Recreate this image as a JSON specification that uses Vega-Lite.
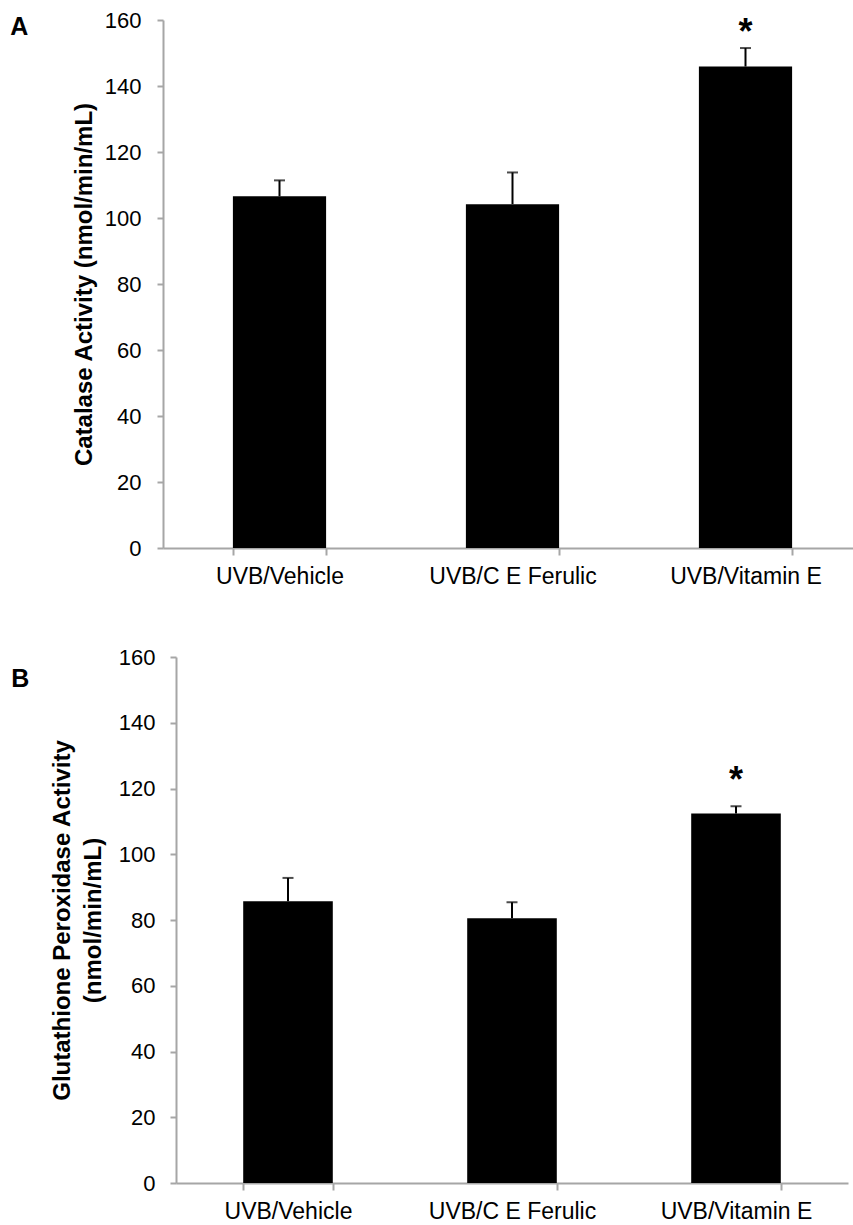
{
  "$schema": "https://vega.github.io/schema/vega-lite/v6.json",
  "padding": {"left": 10, "top": 9, "right": 0, "bottom": 0},
  "background": "white",
  "config": {
    "view": {"stroke": null},
    "font": "Liberation Sans",
    "axis": {"grid": false, "domainColor": "#a6a6a6", "tickColor": "#a6a6a6", "domainWidth": 2, "tickWidth": 2, "labelColor": "black", "titleColor": "black", "labelFont": "Liberation Sans", "titleFont": "Liberation Sans"}
  },
  "datasets": {
    "catalase": [
      {"group": "UVB/Vehicle", "mean": 106.6, "upper": 111.4, "star": null},
      {"group": "UVB/C E Ferulic", "mean": 104.2, "upper": 113.8, "star": null},
      {"group": "UVB/Vitamin E", "mean": 145.9, "upper": 151.5, "star": 152.8}
    ],
    "gpx": [
      {"group": "UVB/Vehicle", "mean": 85.7, "upper": 92.8, "star": null},
      {"group": "UVB/C E Ferulic", "mean": 80.5, "upper": 85.4, "star": null},
      {"group": "UVB/Vitamin E", "mean": 112.4, "upper": 114.6, "star": 119}
    ]
  },
  "spacing": 109,
  "bounds": "flush",
  "vconcat": [
    {
      "width": 699,
      "height": 528,
      "title": {"text": "A", "orient": "left", "anchor": "end", "frame": "group", "angle": 0, "align": "left", "baseline": "alphabetic", "dy": 15, "offset": 44, "fontSize": 25, "fontWeight": "bold", "font": "Liberation Sans", "color": "black"},
      "data": {"name": "catalase"},
      "encoding": {
        "x": {"field": "group", "type": "nominal", "sort": null,
          "scale": {"paddingInner": 0.6, "paddingOuter": 0.3},
          "axis": {"title": null, "labelAngle": 0, "labelFontSize": 23, "tickBand": "extent", "tickSize": 7, "labelPadding": 10}}
      },
      "layer": [
        {"mark": {"type": "bar", "color": "black"},
         "encoding": {"y": {"field": "mean", "type": "quantitative", "scale": {"domain": [0, 160]},
           "axis": {"title": "Catalase Activity (nmol/min/mL)", "titleFontSize": 24, "titleFontWeight": "bold", "titlePadding": 8, "values": [0, 20, 40, 60, 80, 100, 120, 140, 160], "labelFontSize": 22, "tickSize": 6, "labelPadding": 16}}}},
        {"mark": {"type": "rule", "color": "black", "strokeWidth": 2},
         "encoding": {"y": {"field": "mean", "type": "quantitative"}, "y2": {"field": "upper"}}},
        {"mark": {"type": "tick", "color": "black", "thickness": 2, "size": 11},
         "encoding": {"y": {"field": "upper", "type": "quantitative"}}},
        {"transform": [{"filter": "datum.star != null"}],
         "mark": {"type": "text", "text": "*", "fontSize": 36, "fontWeight": "bold", "baseline": "alphabetic", "color": "black"},
         "encoding": {"y": {"field": "star", "type": "quantitative"}}}
      ]
    },
    {
      "width": 685,
      "height": 526,
      "title": {"text": "B", "orient": "left", "anchor": "end", "frame": "group", "angle": 0, "align": "left", "baseline": "alphabetic", "dy": 30, "offset": 21, "fontSize": 25, "fontWeight": "bold", "font": "Liberation Sans", "color": "black"},
      "data": {"name": "gpx"},
      "encoding": {
        "x": {"field": "group", "type": "nominal", "sort": null,
          "scale": {"paddingInner": 0.6, "paddingOuter": 0.3, "range": [13, 685]},
          "axis": {"title": null, "labelAngle": 0, "labelFontSize": 23, "tickBand": "extent", "tickSize": 7, "labelPadding": 10}}
      },
      "layer": [
        {"mark": {"type": "bar", "color": "black"},
         "encoding": {"y": {"field": "mean", "type": "quantitative", "scale": {"domain": [0, 160]},
           "axis": {"title": ["Glutathione Peroxidase Activity", "(nmol/min/mL)"], "titleFontSize": 24, "titleFontWeight": "bold", "titleLineHeight": 31, "titlePadding": 13, "values": [0, 20, 40, 60, 80, 100, 120, 140, 160], "labelFontSize": 22, "tickSize": 6, "labelPadding": 15, "offset": -13}}}},
        {"mark": {"type": "rule", "color": "black", "strokeWidth": 2},
         "encoding": {"y": {"field": "mean", "type": "quantitative"}, "y2": {"field": "upper"}}},
        {"mark": {"type": "tick", "color": "black", "thickness": 2, "size": 11},
         "encoding": {"y": {"field": "upper", "type": "quantitative"}}},
        {"transform": [{"filter": "datum.star != null"}],
         "mark": {"type": "text", "text": "*", "fontSize": 36, "fontWeight": "bold", "baseline": "alphabetic", "color": "black"},
         "encoding": {"y": {"field": "star", "type": "quantitative"}}}
      ]
    }
  ]
}
